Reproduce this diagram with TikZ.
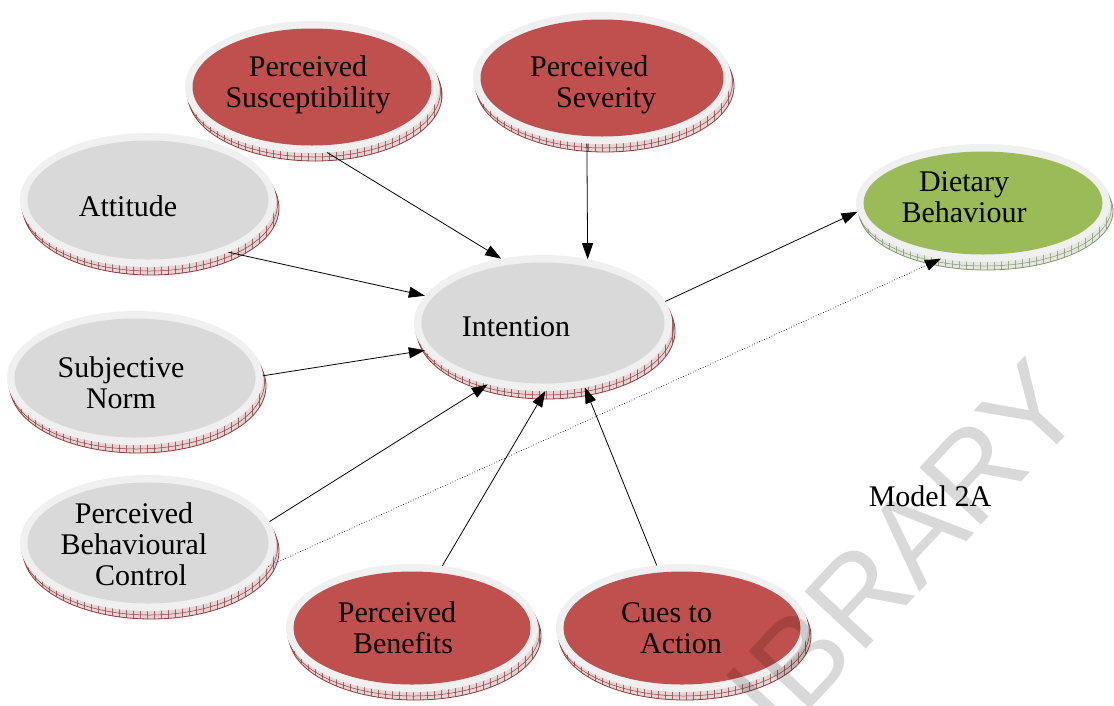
\documentclass[tikz,border=0pt]{standalone}
\usepackage{fontspec}
\setmainfont{Liberation Serif}
\newfontfamily\wmfont{Liberation Sans}
\usetikzlibrary{shapes.geometric,arrows.meta,patterns.meta}

\definecolor{redfill}{HTML}{C0504D}
\definecolor{grayfill}{HTML}{D9D9D9}
\definecolor{greenfill}{HTML}{9BBB59}
\definecolor{rimcol}{HTML}{F0F0F0}
\definecolor{redbase}{HTML}{8C3B3B}
\definecolor{greenbase}{HTML}{85936C}

\tikzset{
  lbl/.style={font=\fontsize{30}{31}\selectfont, align=center, inner sep=0pt},
  lblleft/.style={font=\fontsize{30}{31}\selectfont, align=left, inner sep=0pt},
  link/.style={draw, line width=0.8pt, -{Triangle[length=16pt,width=11pt]}},
  dotlink/.style={draw, line width=0.7pt, dotted, -{Triangle[length=16pt,width=11pt]}},
  bubble/.style={ellipse, inner sep=0pt, outer sep=0pt},
}

% #1 name, #2 x, #3 y, #4 x radius, #5 y radius, #6 face colour, #7 rim base colour
\newcommand{\drawbubble}[7]{%
  \fill[#7!22!white] (#2+3,#3+8) ellipse [x radius=#4, y radius=#5];
  \fill[pattern={Lines[angle=90,distance=7pt,line width=0.5pt]}, pattern color=#7!80!white]
    (#2+3,#3+8) ellipse [x radius=#4, y radius=#5];
  \draw[#7, line width=0.5pt] (#2+1.5,#3+4) ellipse [x radius=#4, y radius=#5];
  \draw[#7, line width=0.8pt] (#2+3,#3+8) ellipse [x radius=#4, y radius=#5];
  \fill[rimcol] (#2,#3) ellipse [x radius=#4, y radius=#5];
  \fill[#6] (#2,#3) ellipse [x radius=#4-7.5, y radius=#5-7.5];
  \node[bubble, minimum width={2*#4pt}, minimum height={2*#5pt}] (#1) at (#2,#3) {};
}

\begin{document}
\begin{tikzpicture}[x=1pt, y=-1pt]
\useasboundingbox (0,0) rectangle (1114,705);
\fill[white] (0,0) rectangle (1114,705);

% construct bubbles
\drawbubble{att}{148}{200}{128}{67}{grayfill}{redbase}
\drawbubble{sus}{312}{87}{127}{66}{redfill}{redbase}
\drawbubble{sev}{602}{78}{129}{66}{redfill}{redbase}
\drawbubble{sn}{135}{378}{128}{67}{grayfill}{redbase}
\drawbubble{pbc}{148}{543}{128}{68}{grayfill}{redbase}
\drawbubble{int}{543}{323}{129}{68}{grayfill}{redbase}
\drawbubble{ben}{412}{628}{126}{64}{redfill}{redbase}
\drawbubble{cue}{682}{628}{126}{64}{redfill}{redbase}
\drawbubble{diet}{983}{203}{127}{59}{greenfill}{greenbase}

% labels
\node[lbl] (sus-t) at (308,85) {Perceived\\Susceptibility};
\node[lblleft, anchor=west] (sev-t) at (530,85) {Perceived\\\hspace*{26pt}Severity};
\node[lbl] (att-t) at (128,206) {Attitude};
\node[lbl] (sn-t) at (121,382.5) {Subjective\\Norm};
\node[lbl] (int-t) at (516,327) {Intention};
\node[lbl] (pbc-t) at (134,544) {Perceived\\Behavioural\\\hspace*{14pt}Control};
\node[lbl] (ben-t) at (397,628) {Perceived\\\hspace*{12pt}Benefits};
\node[lblleft, anchor=west] (cue-t) at (621,628) {Cues to\\\hspace*{19pt}Action};
\node[lbl] (diet-t) at (964,197) {Dietary\\Behaviour};
\node[lbl] (model) at (930,496) {Model 2A};

% paths of influence
\path[link] (att.-33) -- (int.167);
\path[link] (sn.1) -- (int.-167);
\path[link] (pbc.10) -- (int.-132);
\path[link] (ben.64) -- (int.-88);
\path[link] (cue.112) -- (int.-57);
\path[link] (sus.-77) -- (int.123);
\path[link] (sev.-103) -- (int.55);
\path[link] (int.10) -- (diet.184);
\path[dotlink] (pbc.-11) -- (diet.-127);

% overprint
\node[font=\wmfont\fontsize{122}{122}\selectfont, text=black, text opacity=0.15,
      rotate=47, inner sep=0pt] (wm) at (881,572) {LIBRARY};
\end{tikzpicture}
\end{document}
